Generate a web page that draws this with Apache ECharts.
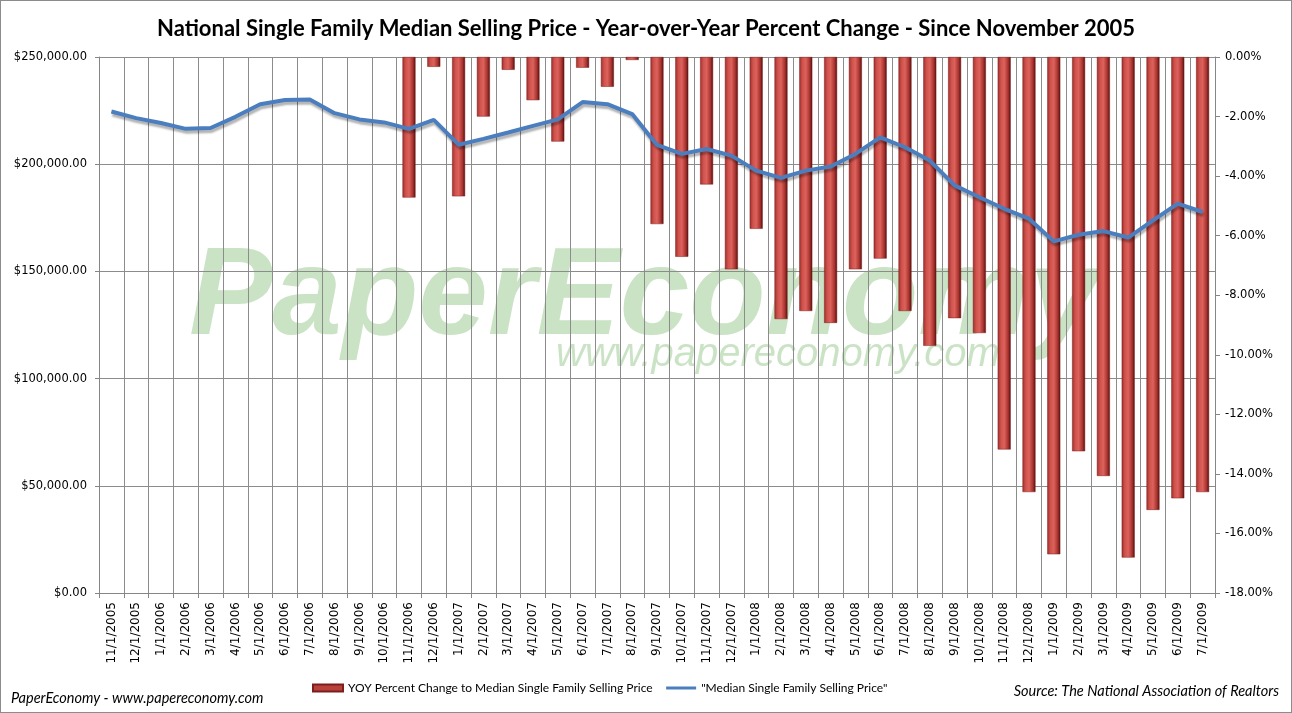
<!DOCTYPE html>
<html>
<head>
<meta charset="utf-8">
<script src="https://cdn.jsdelivr.net/npm/echarts@6/dist/echarts.min.js"></script>
<style>
html, body { margin: 0; padding: 0; background: #fff; }
#chart { width: 1290px; height: 711px; border: 1px solid #8c8c8c; }
</style>
</head>
<body>
<div id="chart"></div>
<script>
// months from 11/1/2005 to 7/1/2009
var categories = [
	'11/1/2005', '12/1/2005', '1/1/2006', '2/1/2006', '3/1/2006', '4/1/2006', '5/1/2006', '6/1/2006',
	'7/1/2006', '8/1/2006', '9/1/2006', '10/1/2006', '11/1/2006', '12/1/2006', '1/1/2007', '2/1/2007',
	'3/1/2007', '4/1/2007', '5/1/2007', '6/1/2007', '7/1/2007', '8/1/2007', '9/1/2007', '10/1/2007',
	'11/1/2007', '12/1/2007', '1/1/2008', '2/1/2008', '3/1/2008', '4/1/2008', '5/1/2008', '6/1/2008',
	'7/1/2008', '8/1/2008', '9/1/2008', '10/1/2008', '11/1/2008', '12/1/2008', '1/1/2009', '2/1/2009',
	'3/1/2009', '4/1/2009', '5/1/2009', '6/1/2009', '7/1/2009'
];

// YOY percent change (bars, right axis) - none visible before 11/2006
var yoyChange = [
	null, null, null, null, null, null, null, null, null, null, null, null,
	-4.72, -0.33, -4.68, -2.00, -0.43, -1.45, -2.84, -0.36, -1.00, -0.10,
	-5.61, -6.71, -4.28, -7.13, -5.77, -8.80, -8.53, -8.93, -7.13, -6.77,
	-8.53, -9.70, -8.77, -9.27, -13.18, -14.61, -16.70, -13.24, -14.07, -16.81,
	-15.21, -14.82, -14.61
];

// median single family selling price (line, left axis)
var medianPrice = [
	224600, 221500, 219200, 216500, 216900, 222100, 228000, 229900, 230200, 223800,
	220900, 219500, 216500, 220700, 209100, 211800, 214800, 217900, 220900, 229000,
	228000, 223400, 209000, 204800, 207100, 204000, 197000, 193600, 197000, 198900,
	204800, 212500, 207900, 201700, 190100, 184600, 179200, 174600, 164000, 167100,
	168800, 165800, 173800, 181600, 177700
];

var priceTicks = [0, 250000, 50000];
var pctTicks = [-18, 0, 2];

var titleText = 'National Single Family Median Selling Price - Year-over-Year Percent Change - Since November 2005';
var barName = 'YOY Percent Change to Median Single Family Selling Price';
var lineName = '"Median Single Family Selling Price"';

var myChart = echarts.init(document.getElementById('chart'));

var fmtMoney = function(v) {
	var s = String(Math.round(v)).replace(/\B(?=(\d{3})+(?!\d))/g, ',');
	return '$' + s + '.00';
};

var option = {
	animation : false,
	title : {
		text : titleText,
		left : 'center',
		top : 12,
		textStyle : {
			fontFamily : 'Lato',
			fontWeight : 'bold',
			fontSize : 22,
			color : '#000'
		}
	},
	legend : {
		bottom : 13,
		left : 306,
		itemWidth : 30,
		itemHeight : 7,
		itemGap : 12,
		textStyle : { fontFamily : 'Lato', fontSize : 12, color : '#000' },
		data : [
			{ name : barName, icon : 'rect', itemStyle : { color : '#b9403b' } },
			{ name : lineName, itemStyle : { opacity : 0 }, lineStyle : { width : 3, shadowBlur : 0, shadowOffsetY : 0 } }
		]
	},
	graphic : [
		{
			type : 'text', left : 188, top : 236, z : -10, silent : true,
			style : {
				text : 'PaperEconomy',
				font : 'italic bold 125px "Liberation Sans"',
				fill : 'rgba(150, 200, 140, 0.5)'
			}
		},
		{
			type : 'text', left : 555, top : 334, z : -10, silent : true,
			style : {
				text : 'www.papereconomy.com',
				font : 'italic 40px "Liberation Sans"',
				fill : 'rgba(150, 200, 140, 0.5)'
			}
		},
		{
			type : 'text', left : 10, top : 690,
			style : {
				text : 'PaperEconomy - www.papereconomy.com',
				font : 'italic 14.5px Lato',
				fill : '#000'
			}
		},
		{
			type : 'text', right : 12, top : 683,
			style : {
				text : 'Source: The National Association of Realtors',
				font : 'italic 14.5px Lato',
				fill : '#000'
			}
		}
	],
	grid : {
		left : 98,
		right : 76,
		top : 56,
		bottom : 119
	},
	xAxis : {
		type : 'category',
		data : categories,
		boundaryGap : true,
		axisLine : { lineStyle : { color : '#868686' } },
		axisTick : { show : true, length : 5, lineStyle : { color : '#868686' } },
		splitLine : { show : true, lineStyle : { color : '#8c8c8c', width : 1 } },
		axisLabel : {
			rotate : 90,
			interval : 0,
			margin : 9,
			fontFamily : 'DejaVu Sans',
			fontSize : 12,
			color : '#000'
		}
	},
	yAxis : [
		{
			type : 'value',
			min : priceTicks[0],
			max : priceTicks[1],
			interval : priceTicks[2],
			axisLine : { show : true, lineStyle : { color : '#868686' } },
			axisTick : { show : true, length : 4, lineStyle : { color : '#868686' } },
			splitLine : { show : true, lineStyle : { color : '#8c8c8c', width : 1 } },
			axisLabel : {
				formatter : fmtMoney,
				margin : 12,
				fontFamily : 'DejaVu Sans',
				fontSize : 11.5,
				color : '#000'
			}
		},
		{
			type : 'value',
			min : pctTicks[0],
			max : pctTicks[1],
			interval : pctTicks[2],
			position : 'right',
			axisLine : { show : true, lineStyle : { color : '#868686' } },
			axisTick : { show : true, length : 5, lineStyle : { color : '#868686' } },
			splitLine : { show : false },
			axisLabel : {
				formatter : function(v) { return v.toFixed(2) + '%'; },
				margin : 10,
				fontFamily : 'DejaVu Sans',
				fontSize : 11.5,
				color : '#000'
			}
		}
	],
	series : [
		{
			name : barName,
			type : 'bar',
			yAxisIndex : 1,
			barWidth : 13,
			z : 2,
			itemStyle : {
				color : new echarts.graphic.LinearGradient(0, 0, 1, 0, [
					{ offset : 0, color : '#9e2f2b' },
					{ offset : 0.25, color : '#d0524d' },
					{ offset : 0.5, color : '#dd625c' },
					{ offset : 0.8, color : '#a8332f' },
					{ offset : 1, color : '#4f0f0d' }
				]),
				borderColor : '#7a1f1c',
				borderWidth : 0.5
			},
			data : yoyChange
		},
		{
			name : lineName,
			type : 'line',
			yAxisIndex : 0,
			symbol : 'none',
			z : 3,
			lineStyle : {
				color : '#4a7ebf',
				width : 4,
				shadowColor : 'rgba(0, 0, 0, 0.3)',
				shadowBlur : 2,
				shadowOffsetX : 1,
				shadowOffsetY : 3
			},
			itemStyle : { color : '#4a7ebf' },
			data : medianPrice
		}
	]
};
myChart.setOption(option);
</script>
</body>
</html>
